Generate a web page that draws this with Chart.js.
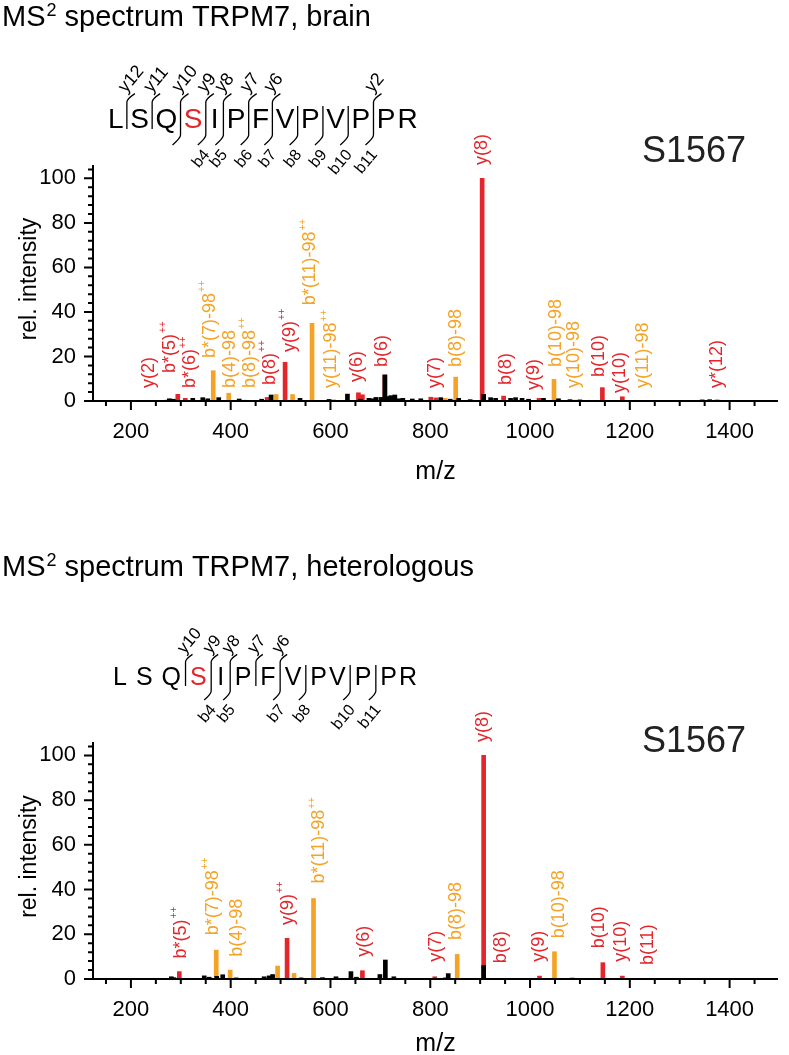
<!DOCTYPE html>
<html>
<head>
<meta charset="utf-8">
<script src="https://cdn.jsdelivr.net/npm/chart.js@4.4.0/dist/chart.umd.min.js"></script>
<style>
  body { margin: 0; background: #fff; }
  #wrap { position: relative; width: 789px; height: 1055px; }
  canvas { position: absolute; left: 0; }
</style>
</head>
<body>
<div id="wrap">
  <canvas id="brain" width="789" height="530" style="top:0px"></canvas>
  <canvas id="hetero" width="789" height="525" style="top:530px"></canvas>
</div>
<script>
const RED = '#e3262b';
const ORANGE = '#f4a326';
const BLACK = '#000000';
const FONT = "'Liberation Sans', Arial, Helvetica, sans-serif";

// peptide
const peptide = ['L', 'S', 'Q', 'S', 'I', 'P', 'F', 'V', 'P', 'V', 'P', 'P', 'R'];
const phosphoIndex = 3;
const siteName = 'S1567';

// axis ticks
const xTickLabels = [200, 400, 600, 800, 1000, 1200, 1400];
const yTickLabels = [0, 20, 40, 60, 80, 100];

// ---- brain ----
const brainSample = 'brain';
const brainYIons = [12, 11, 10, 9, 8, 7, 6, 2];
const brainBIons = [4, 5, 6, 7, 8, 9, 10, 11];
const brainBHooks = [3];

const brainIonText = ['y(2)', 'b*(5)++', 'b*(6)++', 'b*(7)-98++', 'b(4)-98', 'b(8)-98++', 'b(8)++', 'y(9)++',
  'b*(11)-98++', 'y(11)-98++', 'y(6)', 'b(6)', 'y(7)', 'b(8)-98', 'y(8)', 'b(8)', 'y(9)', 'b(10)-98',
  'y(10)-98', 'b(10)', 'y(10)', 'y(11)-98', 'y*(12)'];
const brainIonColor = ['r', 'r', 'r', 'o', 'o', 'o', 'r', 'r', 'o', 'o', 'r', 'r', 'r', 'o', 'r', 'r', 'r', 'o',
  'o', 'r', 'r', 'o', 'r'];
const brainIonMz = [272, 294, 309, 365, 396, 428, 473, 509, 563, 606, 656, 709, 801, 851, 904, 947, 1018, 1048,
  1090, 1145, 1185, 1226, 1375];
const brainIonInt = [0.4, 3.0, 1.2, 13.6, 3.5, 0.4, 1.6, 17.4, 34.9, 0.6, 3.7, 11.7, 1.7, 10.7, 100, 2.2, 1.2, 9.7,
  0.4, 6.0, 1.9, 0.3, 0.5];
// where each label sits (m/z, rel. intensity of its foot)
const brainTextMz = [236, 278, 318, 358, 398, 438, 478, 518, 560, 602, 654, 704, 810, 852, 904, 952, 1008, 1052,
  1088, 1138, 1180, 1226, 1374];
const brainTextInt = [5.8, 12.6, 5.8, 19.3, 5.8, 5.8, 7.2, 22, 43, 5.8, 8.5, 15.3, 5.8, 15.3, 106, 7.2, 4.9, 15.3,
  5.8, 10.8, 3.6, 5.8, 5.8];

const brainOtherMz = [277, 285, 324, 344, 354, 376, 417, 462, 481, 539, 597, 634, 660, 677, 685, 691, 701, 709,
  715, 721, 729, 737, 745, 764, 781, 821, 840, 857, 880, 907, 921, 931, 961, 971, 984, 997, 1027, 1057, 1080,
  1100, 1345, 1360, 664, 811, 491, 524, 830];
const brainOtherInt = [1.0, 0.8, 1.2, 1.5, 1.0, 1.5, 0.9, 0.8, 2.7, 1.2, 0.7, 3.1, 0.8, 1.2, 1.0, 1.6, 1.6, 11.7,
  2.0, 2.4, 2.7, 1.0, 1.2, 0.9, 1.0, 1.5, 0.8, 1.2, 0.6, 3.0, 1.5, 1.2, 1.2, 1.5, 1.2, 0.8, 1.2, 1.0, 0.6,
  0.5, 0.5, 0.6, 2.8, 1.4, 2.9, 2.9, 1.2];
const brainOtherColor = ['k', 'k', 'k', 'k', 'k', 'k', 'k', 'k', 'k', 'k', 'k', 'k', 'k', 'k', 'k', 'k', 'k', 'k',
  'k', 'k', 'k', 'k', 'k', 'k', 'k', 'k', 'k', 'k', 'k', 'k', 'k', 'k', 'k', 'k', 'k', 'k', 'k', 'k', 'k',
  'k', 'k', 'k', 'r', 'r', 'o', 'o', 'o'];

// ---- heterologous ----
const heteroSample = 'heterologous';
const heteroYIons = [10, 9, 8, 7, 6];
const heteroBIons = [4, 5, 7, 8, 10, 11];
const heteroBHooks = [];

const heteroIonText = ['b*(5)++', 'b*(7)-98++', 'b(4)-98', 'y(9)++', 'b*(11)-98++', 'y(6)', 'y(7)', 'b(8)-98',
  'y(8)', 'b(8)', 'y(9)', 'b(10)-98', 'b(10)', 'y(10)', 'b(11)'];
const heteroIonColor = ['r', 'o', 'o', 'r', 'o', 'r', 'r', 'o', 'r', 'r', 'r', 'o', 'r', 'r', 'r'];
const heteroIonMz = [297, 371, 399, 513, 566, 664, 809, 854, 907, 950, 1019, 1049, 1146, 1185, 1246];
const heteroIonInt = [3.3, 12.9, 4.0, 18.2, 36.0, 3.7, 1.0, 11.0, 100, 0.3, 1.3, 12.2, 7.3, 1.3, 0.3];
const heteroTextMz = [300, 364, 412, 514, 578, 668, 812, 852, 906, 942, 1018, 1058, 1138, 1182, 1236];
const heteroTextInt = [9.2, 19.6, 10, 24.1, 42.7, 10, 7.7, 17.4, 106, 7.1, 7.7, 18.2, 13.7, 7.7, 6.3];

const heteroOtherMz = [281, 286, 347, 357, 372, 384, 411, 467, 477, 484, 541, 584, 611, 641, 652, 699, 710, 727,
  830, 836, 907, 955, 1085, 494, 527];
const heteroOtherInt = [1.0, 0.6, 1.4, 0.8, 1.2, 1.9, 0.5, 1.0, 1.4, 2.0, 0.5, 0.6, 1.0, 3.3, 0.8, 2.0, 8.5, 1.0,
  0.5, 2.4, 6.0, 0.3, 0.4, 5.8, 2.5];
const heteroOtherColor = ['k', 'k', 'k', 'k', 'k', 'k', 'k', 'k', 'k', 'k', 'k', 'k', 'k', 'k', 'k', 'k', 'k', 'k',
  'k', 'k', 'k', 'k', 'k', 'o', 'o'];

const COLORS = { r: RED, o: ORANGE, k: BLACK };

// ---------- drawing helpers ----------
function drawPeptide(ctx, o) {
  const L = o.pep;
  ctx.font = L.size + 'px ' + FONT;
  ctx.textAlign = 'left';
  ctx.textBaseline = 'alphabetic';
  let x = L.x;
  const bars = [];
  for (let i = 0; i < peptide.length; i++) {
    const w = ctx.measureText(peptide[i]).width;
    const slot = Math.max(w, L.minW);
    ctx.fillStyle = i === phosphoIndex ? RED : BLACK;
    ctx.fillText(peptide[i], x + (slot - w) / 2, L.base);
    x += slot;
    if (i < peptide.length - 1) {
      const gap = L.tight.includes(i + 1) ? L.tightGap : L.gap;
      bars.push({ k: i + 1, x: x + gap / 2 });
      x += gap;
    }
  }
  ctx.strokeStyle = BLACK;
  ctx.lineWidth = 1.3;
  const n = peptide.length;
  const ang = -50 * Math.PI / 180;
  bars.forEach(b => {
    const hasY = o.yIons.includes(n - b.k);
    const hasB = o.bIons.includes(b.k);
    const hookB = hasB || o.bHooks.includes(b.k);
    if (!hasY && !hookB) return;
    const top = hasY ? L.barTop - L.ext : L.barTop;
    const bot = hookB ? L.barBot + L.ext : L.barBot;
    ctx.beginPath();
    if (hasY) {
      ctx.moveTo(b.x + L.hook, top - L.hook * 0.8);
      ctx.quadraticCurveTo(b.x, top - 1, b.x, top + 2);
    } else {
      ctx.moveTo(b.x, top);
    }
    ctx.lineTo(b.x, bot - 2);
    if (hookB) {
      ctx.quadraticCurveTo(b.x, bot + 1, b.x - L.hook, bot + L.hook);
    }
    ctx.stroke();

    ctx.fillStyle = BLACK;
    if (hasY) {
      ctx.save();
      ctx.font = L.yLab + 'px ' + FONT;
      ctx.translate(b.x - 1, top - L.hook * 0.8);
      ctx.rotate(ang);
      ctx.textAlign = 'left';
      ctx.textBaseline = 'alphabetic';
      ctx.fillText('y' + (n - b.k), 0, 0);
      ctx.restore();
    }
    if (hasB) {
      ctx.save();
      ctx.font = L.bLab + 'px ' + FONT;
      ctx.translate(b.x - L.hook + 3, bot + L.hook + 2);
      ctx.rotate(ang);
      ctx.textAlign = 'right';
      ctx.textBaseline = 'top';
      ctx.fillText('b' + b.k, 0, 0);
      ctx.restore();
    }
  });
}

function drawIonLabels(ctx, xs, ys, o) {
  o.text.forEach((t, i) => {
    const plus = t.endsWith('++');
    const main = plus ? t.slice(0, -2) : t;
    const x = xs.getPixelForValue(o.textMz[i]);
    const y = ys.getPixelForValue(o.textInt[i]);
    ctx.save();
    ctx.translate(x, y);
    ctx.rotate(-Math.PI / 2);
    ctx.fillStyle = COLORS[o.color[i]];
    ctx.textAlign = 'left';
    ctx.textBaseline = 'middle';
    ctx.font = '18px ' + FONT;
    ctx.fillText(main, 0, 0);
    if (plus) {
      const w = ctx.measureText(main).width;
      ctx.font = '10px ' + FONT;
      ctx.fillText('++', w + 1, -7);
    }
    ctx.restore();
  });
}

const decor = {
  id: 'decor',
  afterDraw(chart, args, o) {
    const ctx = chart.ctx;
    const xs = chart.scales.x, ys = chart.scales.y;
    const area = chart.chartArea;
    const dy = o.offY;
    ctx.save();
    ctx.translate(0, -dy);

    // title
    ctx.fillStyle = BLACK;
    ctx.textAlign = 'left';
    ctx.textBaseline = 'alphabetic';
    ctx.font = o.titleSize + 'px ' + FONT;
    let tx = 2;
    ctx.fillText('MS', tx, o.titleY);
    tx += ctx.measureText('MS').width + 1;
    ctx.font = Math.round(o.titleSize * 0.62) + 'px ' + FONT;
    ctx.fillText('2', tx, o.titleY - o.titleSize * 0.36);
    tx += ctx.measureText('2').width;
    ctx.font = o.titleSize + 'px ' + FONT;
    ctx.fillText(' spectrum TRPM7, ' + o.sample, tx, o.titleY);

    // site
    ctx.fillStyle = '#222';
    ctx.font = o.siteSize + 'px ' + FONT;
    ctx.fillText(siteName, o.siteX, o.siteY);

    drawPeptide(ctx, o);

    // axis titles
    ctx.fillStyle = BLACK;
    ctx.font = '25px ' + FONT;
    ctx.textAlign = 'center';
    ctx.textBaseline = 'middle';
    ctx.fillText('m/z', (area.left + area.right) / 2, o.mzY);
    ctx.font = '23px ' + FONT;
    ctx.save();
    ctx.translate(30, (area.top + area.bottom) / 2 + dy - 4);
    ctx.rotate(-Math.PI / 2);
    ctx.fillText('rel. intensity', 0, 0);
    ctx.restore();
    ctx.restore();

    // axes, drawn on the chart's own scales
    ctx.save();
    ctx.strokeStyle = BLACK;
    ctx.lineWidth = 2;
    const x0 = area.left, y0 = ys.getPixelForValue(0);
    ctx.beginPath();
    ctx.moveTo(x0 - 9, y0);
    ctx.lineTo(area.right, y0);
    ctx.moveTo(x0, y0 + 1);
    ctx.lineTo(x0, area.top);
    for (let v = 4; v <= ys.max; v += 4) {
      const p = ys.getPixelForValue(v);
      ctx.moveTo(x0, p);
      ctx.lineTo(x0 - (v % 20 === 0 ? 9 : 5), p);
    }
    for (let v = 150; v <= xs.max; v += 50) {
      const p = xs.getPixelForValue(v);
      ctx.moveTo(p, y0);
      ctx.lineTo(p, y0 + (v % 200 === 0 ? 9 : 5));
    }
    ctx.stroke();

    drawIonLabels(ctx, xs, ys, o);
    ctx.restore();
  }
};

function makeChart(id, d, layout) {
  const pts = { r: [], o: [], k: [] };
  d.ionMz.forEach((m, i) => pts[d.ionColor[i]].push({ x: m, y: d.ionInt[i] }));
  d.otherMz.forEach((m, i) => pts[d.otherColor[i]].push({ x: m, y: d.otherInt[i] }));

  return new Chart(document.getElementById(id), {
    type: 'bar',
    data: {
      datasets: [
        { data: pts.k, backgroundColor: BLACK },
        { data: pts.o, backgroundColor: ORANGE },
        { data: pts.r, backgroundColor: RED }
      ]
    },
    plugins: [decor],
    options: {
      responsive: false,
      animation: false,
      devicePixelRatio: 1,
      layout: { padding: { top: layout.padTop, right: 11, left: 0, bottom: 0 } },
      datasets: { bar: { barThickness: 4, grouped: false } },
      plugins: {
        legend: { display: false },
        tooltip: { enabled: false },
        decor: Object.assign({
          sample: d.sample, yIons: d.yIons, bIons: d.bIons, bHooks: d.bHooks,
          text: d.ionText, color: d.ionColor, textMz: d.textMz, textInt: d.textInt
        }, layout)
      },
      scales: {
        x: {
          type: 'linear', min: 124, max: 1497, offset: false,
          grid: { display: false, drawTicks: false },
          border: { display: false },
          afterBuildTicks: s => { s.ticks = xTickLabels.map(v => ({ value: v })); },
          afterFit: s => { s.height = layout.xAxisH; },
          ticks: { color: BLACK, font: { size: 22, family: FONT }, padding: 18, maxRotation: 0, autoSkip: false,
                   callback: v => String(v) }
        },
        y: {
          min: 0, max: 106,
          grid: { display: false, drawTicks: false },
          border: { display: false },
          afterBuildTicks: s => { s.ticks = yTickLabels.map(v => ({ value: v })); },
          afterFit: s => { s.width = 93; },
          ticks: { color: BLACK, font: { size: 22, family: FONT }, padding: 17, callback: v => String(v) }
        }
      }
    }
  });
}

makeChart('brain', {
  sample: brainSample, yIons: brainYIons, bIons: brainBIons, bHooks: brainBHooks,
  ionText: brainIonText, ionColor: brainIonColor, ionMz: brainIonMz, ionInt: brainIonInt,
  textMz: brainTextMz, textInt: brainTextInt,
  otherMz: brainOtherMz, otherInt: brainOtherInt, otherColor: brainOtherColor
}, {
  offY: 0, padTop: 165, xAxisH: 129,
  titleY: 26, titleSize: 29, siteX: 642, siteY: 162, siteSize: 36, mzY: 472,
  pep: { x: 108, base: 128, size: 28, minW: 11, gap: 6.6, tightGap: 2, tight: [12],
         barTop: 106, barBot: 131, ext: 6, hook: 8, yLab: 18, bLab: 16 }
});

makeChart('hetero', {
  sample: heteroSample, yIons: heteroYIons, bIons: heteroBIons, bHooks: heteroBHooks,
  ionText: heteroIonText, ionColor: heteroIonColor, ionMz: heteroIonMz, ionInt: heteroIonInt,
  textMz: heteroTextMz, textInt: heteroTextInt,
  otherMz: heteroOtherMz, otherInt: heteroOtherInt, otherColor: heteroOtherColor
}, {
  offY: 530, padTop: 212, xAxisH: 76,
  titleY: 576, titleSize: 29, siteX: 642, siteY: 752, siteSize: 36, mzY: 1044,
  pep: { x: 113, base: 685, size: 25, minW: 10, gap: 9, tightGap: 2, tight: [9, 12],
         barTop: 665, barBot: 688, ext: 5, hook: 7, yLab: 17, bLab: 16 }
});
</script>
</body>
</html>
